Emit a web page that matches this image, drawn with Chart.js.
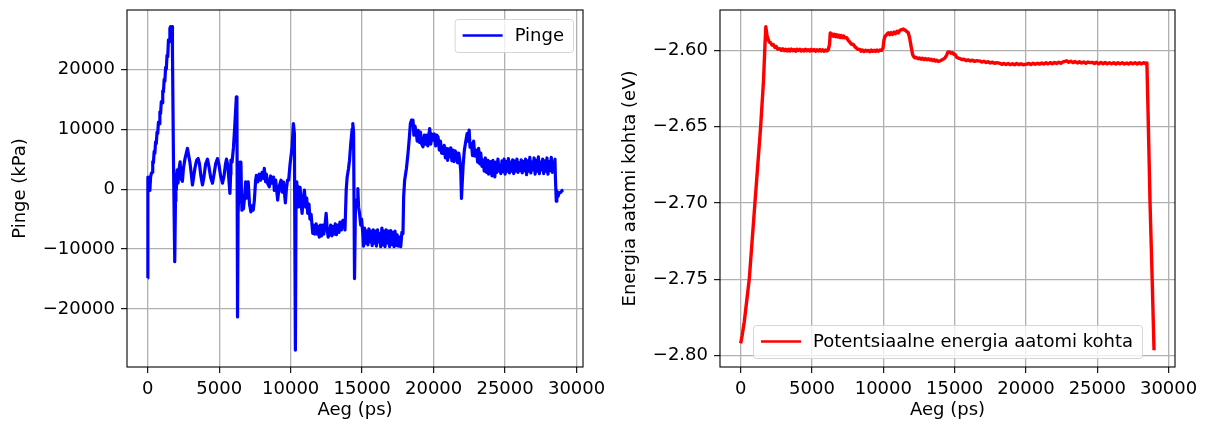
<!DOCTYPE html>
<html lang="et">
<head>
<meta charset="UTF-8">
<title>Pinge ja energia</title>
<script src="https://cdn.jsdelivr.net/npm/chart.js"></script>
<style>
  html, body {
    margin: 0;
    padding: 0;
    width: 1206px;
    height: 425px;
    overflow: hidden;
    background: #fff;
  }
  #left, #right {
    position: absolute;
    top: 0;
  }
  #left { left: 0; z-index: 1; }
  #right { left: 600px; z-index: 2; }
</style>
</head>
<body>
  <canvas id="left" width="640" height="425"></canvas>
  <canvas id="right" width="606" height="425"></canvas>
  <script>
    // tick values
    const timeTicks = [0, 5000, 10000, 15000, 20000, 25000, 30000]
    const pressureTicks = [-20000, -10000, 0, 10000, 20000]
    const energyTicks = [-2.80, -2.75, -2.70, -2.65, -2.60]

    // pressure (kPa) vs time (ps)
    const pressureTime = [
      0, 10, 100, 150, 200, 250, 300, 350, 400, 450, 500, 550, 600, 650, 700, 750, 800, 850, 900, 950,
      1000, 1050, 1100, 1150, 1200, 1250, 1300, 1350, 1400, 1450, 1500, 1550, 1600, 1650, 1700, 1730, 1800, 1890, 1940, 1970,
      2000, 2060, 2120, 2200, 2265, 2330, 2426, 2500, 2600, 2700, 2777,
      2850, 2950, 3050, 3128, 3200, 3300, 3420, 3527, 3620, 3720, 3830, 3930, 4050, 4180, 4280, 4400, 4530, 4640, 4760, 4880,
      4990, 5100, 5230, 5340, 5430, 5510, 5600, 5680, 5750, 5800, 5820, 5900, 6000, 6100, 6200, 6240, 6283, 6320, 6400, 6450,
      6520, 6560, 6590, 6650, 6700, 6780, 6850, 6920, 7030, 7120, 7220, 7300, 7380, 7455, 7550, 7600, 7700, 7800, 7900, 8000,
      8100, 8155, 8250, 8300, 8400, 8506, 8600, 8700, 8800, 8857, 8950, 9090, 9200, 9325, 9400, 9500, 9628, 9700, 9780, 9860,
      9950, 10098, 10189, 10259, 10330, 10379, 10430, 10500, 10561, 10659, 10730, 10800, 10880, 10961, 11050, 11120, 11192, 11280, 11350, 11430,
      11543, 11600, 11680, 11781, 11850, 11930, 12000, 12080, 12150, 12250, 12320, 12400, 12482, 12550, 12620, 12713, 12800, 12880, 12950, 13050,
      13120, 13200, 13300, 13380, 13450, 13550, 13650, 13765, 13800, 13884, 13950, 14050, 14117, 14200, 14300, 14347, 14400, 14467, 14530, 14584,
      14650, 14698, 14750, 14818, 14900, 14960, 15049, 15100, 15170, 15250, 15320, 15400, 15470, 15550, 15620, 15700, 15780, 15850, 15930, 16000,
      16080, 16150, 16220, 16300, 16380, 16450, 16520, 16600, 16680, 16750, 16830, 16920, 17000, 17080, 17150, 17230, 17300, 17380, 17450, 17530,
      17622, 17700, 17780, 17856, 17903, 17973, 18100, 18207, 18300, 18375, 18450, 18557, 18620, 18700, 18795, 18850, 18920, 19000, 19080, 19150,
      19257, 19350, 19420, 19500, 19600, 19650, 19727, 19800, 19880, 19960, 20050, 20150, 20220, 20310, 20400, 20480, 20560, 20660, 20740, 20820,
      20900, 20980, 21050, 21130, 21200, 21280, 21350, 21430, 21500, 21600, 21680, 21760, 21830, 21900, 21950, 22000, 22065, 22150, 22250, 22345,
      22420, 22485, 22550, 22650, 22720, 22800, 22880, 23000, 23080, 23150, 23230, 23300, 23380, 23465, 23540, 23620, 23700, 23800, 23850, 23932,
      24000, 24080, 24150, 24230, 24283, 24350, 24420, 24500, 24580, 24633, 24700, 24780, 24850, 24930, 25000, 25080, 25150, 25230, 25300, 25380,
      25450, 25530, 25600, 25680, 25750, 25830, 25900, 25980, 26050, 26130, 26200, 26280, 26350, 26430, 26500, 26580, 26650, 26730, 26800, 26880,
      26950, 27030, 27100, 27180, 27250, 27330, 27400, 27480, 27550, 27630, 27700, 27780, 27850, 27930, 28000, 28080, 28150, 28230, 28300, 28380,
      28450, 28490, 28520, 28580, 28620, 28700, 28800, 28900, 29000, 29070
    ]
    const pressure = [
      -14800, 2000, 200, -200, 2000, 2600, 2800, 4600, 4400, 6300, 6000, 7900, 7600, 9500, 9300, 11200, 10900, 12900, 12600, 14600,
      14400, 16400, 16200, 18300, 18000, 20300, 20000, 22300, 22100, 24900, 24600, 26800, 27100, 26500, 27100, 23000, 5000, -12100, -2000, 2500,
      -100, 3200, 1000, 3500, 4550, 1800, 1300, 3500, 5000, 6000, 6800,
      5800, 4500, 2500, 700, 1800, 3500, 4800, 5100, 4200, 2200, 700, 2000, 4200, 5000, 3800, 2000, 1000, 2500, 4300, 5100,
      4000, 2200, 1000, 2200, 4000, 5000, 4000, 1500, -700, 2500, 4850, 4500, 7000, 11000, 15400, 14000, -21300, -4000, 1000, 4500,
      4500, -1000, -3500, -2000, -3300, -1200, 1200, -1500, 1220, -2500, -3800, -2800, -3500, -2000, 1500, 2300, 1200, 2500, 1500, 2800,
      1800, 3450, 1200, 2500, 900, 400, 2200, 1000, 2000, -200, 1500, -1830, 500, 1500, -500, 1200, -2300, 0, 1500, 1500,
      4000, 7050, 10950, 9300, -26830, 1200, -1000, 500, -2950, 300, -2500, -4050, -1500, -170, -3000, -1500, -4050, -2500, -5000, -4200,
      -7380, -6000, -7500, -5800, -7500, -6200, -8000, -6000, -7800, -6000, -7500, -6000, -4050, -6500, -8000, -7380, -6000, -7800, -6200, -7500,
      -5800, -7600, -6000, -7200, -5500, -6800, -5200, -5170, -6800, -170, 2000, 3500, 4830, 7500, 10000, 10950, 9500, -14900, -3000, -1830,
      -2500, 100, -3000, -4050, -6000, -5000, -7400, -9500, -6500, -9000, -7000, -9300, -6600, -8800, -7000, -9400, -6800, -9000, -7000, -9500,
      -6800, -8800, -7400, -9600, -6500, -9300, -7000, -9600, -6800, -9000, -7000, -9600, -6900, -9200, -7200, -9600, -7000, -9400, -7600, -9500,
      -8000, -9600, -7200, -7400, -1280, 1500, 3500, 5950, 8500, 10950, 11500, 11500, 9000, 10500, 9280, 8000, 9800, 7800, 9500, 7600,
      7050, 9000, 7500, 9000, 7200, 8800, 10100, 7500, 9200, 8170, 9200, 7200, 9000, 8700, 6500, 8000, 6000, 5950, 7300, 5200,
      6800, 4800, 6700, 5380, 6900, 4700, 6500, 4600, 6400, 5950, 4400, 6000, 4830, 3000, -1550, 1000, 3950, 6500, 8000, 9280,
      8000, 9830, 7000, 7600, 5600, 8000, 5500, 6500, 4500, 6800, 4200, 6000, 3800, 4830, 3000, 5200, 2800, 4800, 2500, 3170,
      4600, 2200, 4800, 2800, 2050, 4500, 2800, 5000, 3000, 3950, 2600, 4700, 2900, 5000, 2500, 4600, 3000, 5100, 2700, 4500,
      3000, 4900, 2600, 4700, 3000, 5000, 2800, 4400, 3100, 4900, 2700, 4600, 3100, 5000, 2400, 4700, 3000, 5300, 2700, 4500,
      3200, 5200, 2500, 4800, 3000, 5400, 2600, 4500, 3200, 5000, 2600, 4700, 3000, 5200, 2500, 4600, 3100, 5300, 2800, 4500,
      3000, 5000, 2000, -2000, -300, -1200, -600, -500, -200, -100
    ]

    // potential energy per atom (eV) vs time (ps)
    const energyTime = [
      0, 100, 250, 600, 1000, 1400, 1600, 1700, 1760, 1800, 1850, 1937, 2000, 2100, 2200, 2287, 2400, 2500, 2600, 2756,
      2850, 2950, 3050, 3150, 3250, 3350, 3450, 3550, 3650, 3750, 3850, 3950, 4050, 4150, 4250, 4350, 4450, 4550, 4650, 4750,
      4850, 4950, 5050, 5150, 5250, 5350, 5450, 5550, 5650, 5750, 5850, 5950, 6050, 6143, 6230, 6280, 6350, 6420, 6494, 6580,
      6660, 6740, 6820, 6900, 6980, 7060, 7140, 7220, 7300, 7430, 7550, 7650, 7750, 7897, 8000, 8100, 8200, 8365, 8450, 8550,
      8650, 8750, 8833, 8950, 9050, 9150, 9250, 9350, 9450, 9550, 9650, 9750, 9884, 9980, 10050, 10119, 10200, 10280, 10352, 10450,
      10550, 10650, 10750, 10850, 10950, 11053, 11150, 11250, 11403, 11500, 11600, 11754, 11850, 11950, 12050, 12104, 12200, 12300, 12455, 12550,
      12650, 12750, 12850, 12950, 13050, 13150, 13250, 13350, 13450, 13550, 13650, 13750, 13850, 13977, 14100, 14250, 14350, 14445, 14520, 14600,
      14679, 14750, 14850, 14950, 15029, 15150, 15250, 15380, 15500, 15650, 15800, 15950, 16100, 16250, 16400, 16550, 16782, 16900, 17050, 17200,
      17350, 17500, 17650, 17800, 17950, 18185, 18300, 18450, 18600, 18750, 18900, 19050, 19200, 19350, 19500, 19650, 19800, 20056, 20200, 20350,
      20500, 20650, 20800, 20950, 21100, 21250, 21400, 21550, 21700, 21850, 22000, 22150, 22300, 22450, 22600, 22861, 23000, 23150, 23300, 23450,
      23600, 23750, 23900, 24050, 24200, 24350, 24495, 24650, 24800, 24950, 25100, 25250, 25400, 25550, 25700, 25850, 26000, 26150, 26300, 26450,
      26600, 26750, 26900, 27068, 27200, 27350, 27500, 27650, 27800, 27950, 28100, 28250, 28400, 28480, 28560, 28700, 28850, 28980
    ]
    const energy = [
      -2.792, -2.787, -2.778, -2.750, -2.700, -2.650, -2.620, -2.597, -2.5845, -2.5870, -2.5905, -2.5928, -2.5945, -2.5950, -2.5965, -2.5961, -2.5980, -2.5975, -2.5992, -2.5989,
      -2.6000, -2.5990, -2.6002, -2.5992, -2.6003, -2.5993, -2.6004, -2.5991, -2.6002, -2.5994, -2.6005, -2.5992, -2.6001, -2.5993, -2.6004, -2.5995, -2.6003, -2.5992, -2.6002, -2.5995,
      -2.6004, -2.5993, -2.6002, -2.5994, -2.6005, -2.5996, -2.6003, -2.5994, -2.6004, -2.5996, -2.6005, -2.5997, -2.6003, -2.5995, -2.5960, -2.5885, -2.5900, -2.5893, -2.5907, -2.5895,
      -2.5910, -2.5898, -2.5912, -2.5900, -2.5915, -2.5903, -2.5916, -2.5905, -2.5918, -2.5917, -2.5935, -2.5945, -2.5958, -2.5961, -2.5975, -2.5983, -2.5992, -2.5993, -2.6005, -2.5998,
      -2.6007, -2.5999, -2.6004, -2.6000, -2.6008, -2.5998, -2.6006, -2.5999, -2.6006, -2.5998, -2.6005, -2.5997, -2.6000, -2.5985, -2.5930, -2.5907, -2.5900, -2.5890, -2.5885, -2.5897,
      -2.5883, -2.5895, -2.5880, -2.5890, -2.5875, -2.5885, -2.5870, -2.5865, -2.5860, -2.5866, -2.5872, -2.5885, -2.5920, -2.5975, -2.6025, -2.6037, -2.6048, -2.6046, -2.6054, -2.6050,
      -2.6058, -2.6051, -2.6060, -2.6053, -2.6061, -2.6055, -2.6063, -2.6057, -2.6066, -2.6060, -2.6070, -2.6064, -2.6072, -2.6068, -2.6062, -2.6055, -2.6045, -2.6030, -2.6012, -2.6010,
      -2.6012, -2.6018, -2.6015, -2.6025, -2.6026, -2.6045, -2.6050, -2.6054, -2.6060, -2.6058, -2.6066, -2.6062, -2.6069, -2.6064, -2.6072, -2.6067, -2.6070, -2.6076, -2.6071, -2.6079,
      -2.6074, -2.6082, -2.6077, -2.6085, -2.6080, -2.6085, -2.6091, -2.6085, -2.6092, -2.6086, -2.6093, -2.6087, -2.6094, -2.6086, -2.6093, -2.6087, -2.6094, -2.6090, -2.6085, -2.6092,
      -2.6084, -2.6091, -2.6084, -2.6090, -2.6082, -2.6089, -2.6081, -2.6088, -2.6080, -2.6087, -2.6079, -2.6086, -2.6077, -2.6084, -2.6075, -2.6068, -2.6078, -2.6071, -2.6080, -2.6073,
      -2.6082, -2.6074, -2.6083, -2.6075, -2.6084, -2.6076, -2.6080, -2.6078, -2.6086, -2.6078, -2.6087, -2.6079, -2.6087, -2.6079, -2.6088, -2.6080, -2.6088, -2.6080, -2.6089, -2.6081,
      -2.6088, -2.6080, -2.6089, -2.6082, -2.6089, -2.6081, -2.6088, -2.6080, -2.6089, -2.6081, -2.6088, -2.6080, -2.6087, -2.6082, -2.6400, -2.7000, -2.7500, -2.7965
    ]

    const FONT = { family: '"DejaVu Sans", sans-serif', size: 18 }
    const minus = s => String(s).replace('-', '\u2212')

    // axes frame + matplotlib-like legend box
    const frameAndLegend = {
      id: 'frameAndLegend',
      afterDatasetsDraw(chart, args, opts) {
        const { ctx, chartArea: a } = chart
        ctx.save()
        ctx.strokeStyle = '#000'
        ctx.lineWidth = 1.1
        ctx.strokeRect(a.left, a.top, a.right - a.left, a.bottom - a.top)

        const ds = chart.data.datasets[0]
        ctx.font = FONT.size + 'px ' + FONT.family
        const tw = ctx.measureText(ds.label).width
        const w = 8 + 40 + 12 + tw + 9, h = 33
        let x, y
        if (opts.loc === 'upper right') {
          x = a.right - 10 - w; y = a.top + 9
        } else {
          x = (a.left + a.right) / 2 - w / 2; y = a.bottom - 9 - h
        }
        ctx.beginPath()
        ctx.roundRect(x + 0.5, y + 0.5, w, h, 3)
        ctx.fillStyle = 'rgba(255,255,255,0.8)'
        ctx.fill()
        ctx.strokeStyle = 'rgba(204,204,204,0.8)'
        ctx.lineWidth = 1
        ctx.stroke()
        ctx.beginPath()
        ctx.moveTo(x + 8, y + h / 2)
        ctx.lineTo(x + 48, y + h / 2)
        ctx.strokeStyle = ds.borderColor
        ctx.lineWidth = 2.6
        ctx.stroke()
        ctx.fillStyle = '#000'
        ctx.textBaseline = 'middle'
        ctx.fillText(ds.label, x + 60, y + h / 2 + 1)
        ctx.restore()
      }
    }

    function makeChart(id, cfg) {
      return new Chart(document.getElementById(id), {
        type: 'line',
        data: {
          datasets: [{
            label: cfg.label,
            data: cfg.xs.map((t, i) => ({ x: t, y: cfg.ys[i] })),
            borderColor: cfg.color,
            borderWidth: cfg.lineWidth,
            pointRadius: 0,
            tension: 0,
            borderJoinStyle: 'round',
          }]
        },
        options: {
          responsive: false,
          animation: false,
          devicePixelRatio: 1,
          layout: { padding: { top: 10, right: cfg.padRight, left: 0, bottom: 0 } },
          scales: {
            x: {
              type: 'linear',
              min: -1450,
              max: 30450,
              afterBuildTicks: s => { s.ticks = timeTicks.map(v => ({ value: v })) },
              afterFit: s => { s.height = 58; s.paddingLeft = 0; s.paddingRight = 0 },
              ticks: { font: FONT, color: '#000', padding: 6, maxRotation: 0, minRotation: 0, autoSkip: false, callback: v => String(v) },
              grid: { color: '#b0b0b0', lineWidth: 1.3, tickColor: '#000', tickLength: 6, tickWidth: 1.1 },
              border: { display: false },
              title: { display: true, text: 'Aeg (ps)', font: FONT, color: '#000', padding: { top: 0, bottom: 4 } },
            },
            y: {
              type: 'linear',
              min: cfg.yMin,
              max: cfg.yMax,
              afterBuildTicks: s => { s.ticks = cfg.yTicks.map(v => ({ value: v })) },
              afterFit: s => { s.width = cfg.yWidth; s.paddingTop = 0; s.paddingBottom = 0 },
              ticks: { font: FONT, color: '#000', padding: 6, autoSkip: false, callback: cfg.fmt },
              grid: { color: '#b0b0b0', lineWidth: 1.3, tickColor: '#000', tickLength: 6, tickWidth: 1.1 },
              border: { display: false },
              title: { display: true, text: cfg.yTitle, font: FONT, color: '#000', padding: { top: cfg.titlePad, bottom: 0 } },
            }
          },
          plugins: {
            legend: { display: false },
            tooltip: { enabled: false },
            frameAndLegend: { loc: cfg.loc },
          }
        },
        plugins: [frameAndLegend]
      })
    }

    makeChart('left', {
      label: 'Pinge', color: '#0000ff', xs: pressureTime, ys: pressure, lineWidth: 3.2,
      yMin: -29650, yMax: 29870, yTicks: pressureTicks, yWidth: 127, padRight: 57,
      yTitle: 'Pinge (kPa)', titlePad: 10, loc: 'upper right',
      fmt: v => minus(v),
    })
    makeChart('right', {
      label: 'Potentsiaalne energia aatomi kohta', color: '#ff0000', xs: energyTime, ys: energy, lineWidth: 3.4,
      yMin: -2.8075, yMax: -2.5735, yTicks: energyTicks, yWidth: 120, padRight: 31,
      yTitle: 'Energia aatomi kohta (eV)', titlePad: 20, loc: 'lower center',
      fmt: v => minus(v.toFixed(2)),
    })
  </script>
</body>
</html>
